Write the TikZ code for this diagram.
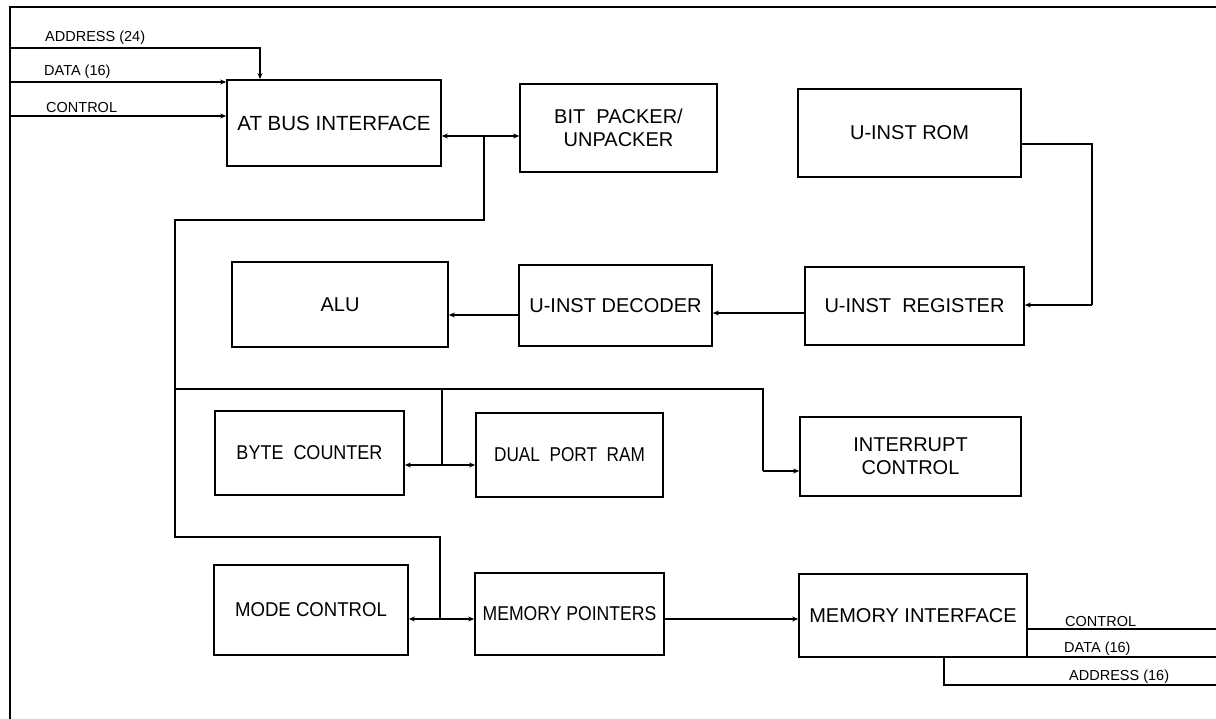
\documentclass[tikz,border=0pt]{standalone}
\usepackage{fontspec}
\setmainfont{Liberation Sans}
\usetikzlibrary{arrows.meta}
\tikzset{
  box/.style={draw, line width=1.7pt, inner sep=0pt, align=center, font=\fontsize{20}{23}\selectfont},
  wire/.style={line width=1.2pt},
  arr/.style={wire, -{Stealth[length=6pt,width=5pt]}},
  biarr/.style={wire, {Stealth[length=6pt,width=5pt]}-{Stealth[length=6pt,width=5pt]}},
  lbl/.style={font=\fontsize{14.5}{16}\selectfont, inner sep=1pt}
}
\begin{document}
\begin{tikzpicture}[x=1pt,y=-1pt]
\useasboundingbox (0,0) rectangle (1216,719);
% frame
\draw[wire] (1216,7) -- (10,7) -- (10,719);

% boxes
\node[box, minimum width=214, minimum height=86] (atbus) at (334,123) {\fontsize{20.5}{23}\selectfont AT BUS INTERFACE};
\node[box, minimum width=197, minimum height=88] (bitp) at (618.5,128) {BIT\ \ PACKER/\\UNPACKER};
\node[box, minimum width=223, minimum height=88] (rom) at (909.5,133) {U-INST ROM};
\node[box, minimum width=216, minimum height=85] (alu) at (340,304.5) {ALU};
\node[box, minimum width=193, minimum height=81] (dec) at (615.5,305.5) {U-INST DECODER};
\node[box, minimum width=219, minimum height=78] (reg) at (914.5,306) {U-INST\ \ REGISTER};
\node[box, minimum width=189, minimum height=84] (byte) at (309.5,453) {\scalebox{0.9}[1]{BYTE\ \ COUNTER}};
\node[box, minimum width=187, minimum height=84] (dpr) at (569.5,455) {\scalebox{0.86}[1]{DUAL\ \ PORT\ \ RAM}};
\node[box, minimum width=221, minimum height=79] (intr) at (910.5,456.5) {INTERRUPT\\CONTROL};
\node[box, minimum width=194, minimum height=90] (mode) at (311,610) {\scalebox{0.93}[1]{MODE CONTROL}};
\node[box, minimum width=189, minimum height=82] (mptr) at (569.5,614) {\scalebox{0.88}[1]{MEMORY POINTERS}};
\node[box, minimum width=228, minimum height=83] (mif) at (913,615.5) {MEMORY INTERFACE};

% AT bus inputs
\coordinate (inA) at (10,48);
\coordinate (inD) at (10,82);
\coordinate (inC) at (10,116);
\draw[arr] (inA) -| ([xshift=-74]atbus.north);
\draw[arr] (inD) -- (inD -| atbus.west);
\draw[arr] (inC) -- (inC -| atbus.west);
\node[lbl, anchor=south west] (lA) at (44,46) {ADDRESS (24)};
\node[lbl, anchor=south west] (lD) at (43,80) {DATA (16)};
\node[lbl, anchor=south west] (lC) at (45,114) {CONTROL};

% AT bus <-> bit packer
\coordinate (j1) at (484,136);
\draw[biarr] (j1 -| atbus.east) -- (j1 -| bitp.west);

% internal bus
\coordinate (j2) at (175,389);
\coordinate (j3) at (442,465);
\coordinate (j4) at (440,619);
\draw[wire] (j1) -- (484,220) -- (175,220) -- (175,537) -- (440,537) -- (j4);
\draw[wire] (j2) -- (763,389) -- (763,471);
\draw[arr] (763,471) -- (intr.west |- 763,471);
\draw[wire] (j3 |- j2) -- (j3);
\draw[biarr] (j3 -| byte.east) -- (j3 -| dpr.west);
\draw[biarr] (j4 -| mode.east) -- (j4 -| mptr.west);
\draw[arr] (j4 -| mptr.east) -- (j4 -| mif.west);

% micro-instruction path
\coordinate (r1) at (1092,144);
\draw[wire] (r1 -| rom.east) -- (r1) -- (1092,305);
\draw[arr] (1092,305) -- (reg.east |- 1092,305);
\coordinate (r2) at (760,313);
\draw[arr] (r2 -| reg.west) -- (r2 -| dec.east);
\coordinate (r3) at (480,315);
\draw[arr] (r3 -| dec.west) -- (r3 -| alu.east);

% memory interface outputs
\coordinate (oC) at (1216,629);
\coordinate (oD) at (1216,657);
\coordinate (oA) at (1216,685);
\draw[wire] (oC -| mif.east) -- (oC);
\draw[wire] (oD -| mif.east) -- (oD);
\draw[wire] (944,657) -- (944,685) -- (oA);
\node[lbl, anchor=south west] (lmC) at (1064,628) {CONTROL};
\node[lbl, anchor=south west] (lmD) at (1063,657) {DATA (16)};
\node[lbl, anchor=south west] (lmA) at (1068,685) {ADDRESS (16)};
\end{tikzpicture}
\end{document}
